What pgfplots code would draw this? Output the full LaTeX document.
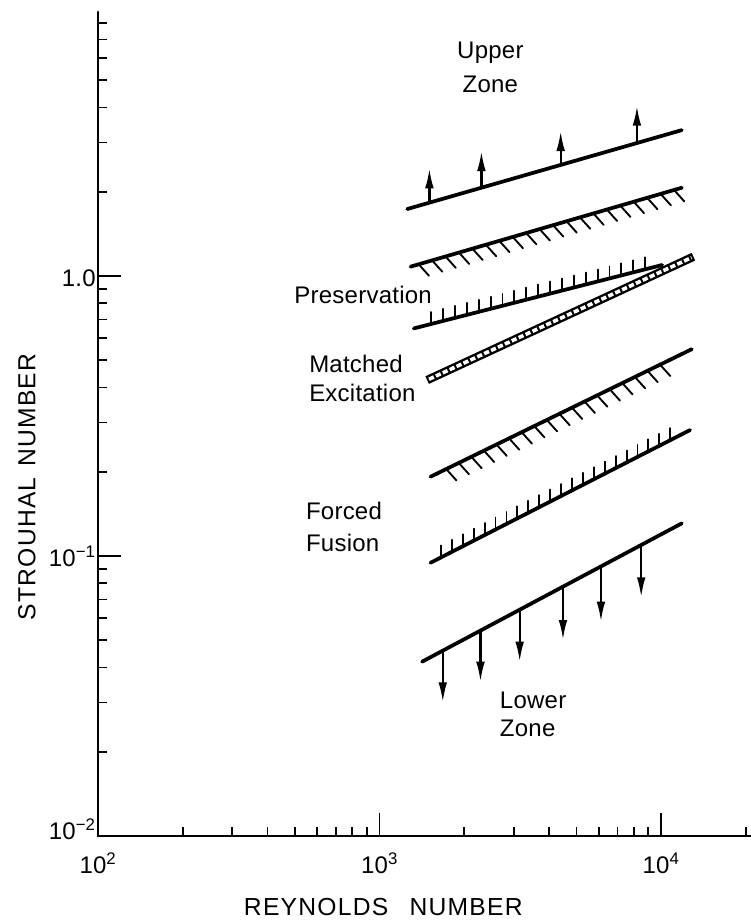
\documentclass[border=0pt]{standalone}
\usepackage{fontspec}
\setmainfont{Liberation Sans}[LetterSpace=1]
\newfontfamily\axfont{Liberation Sans}[LetterSpace=5]
\usepackage{pgfplots}
\pgfplotsset{compat=1.18}
\usetikzlibrary{decorations.markings,arrows.meta}

\tikzset{
  mainline/.style={line width=2.8pt, line cap=round, black},
  slanthatch/.style 2 args={postaction={decorate},
    decoration={markings, mark=between positions #1 and #2 step 10.5pt with
      {\pgftransformresetnontranslations\pgfsetlinewidth{1.4pt}\pgfsetroundcap
       \pgfpathmoveto{\pgfpointorigin}\pgfpathlineto{\pgfpointpolar{-48}{11.5pt}}\pgfusepath{stroke}}}},
  verthatch/.style 2 args={postaction={decorate},
    decoration={markings, mark=between positions #1 and #2 step 9.2pt with
      {\pgftransformresetnontranslations\pgfsetlinewidth{1.4pt}\pgfsetroundcap
       \pgfpathmoveto{\pgfpointorigin}\pgfpathlineto{\pgfpoint{0pt}{9pt}}\pgfusepath{stroke}}}},
  zonearrow/.style={line width=1.7pt, black, -{Latex[length=15pt,width=6.5pt]}},
  lbl/.style={font=\fontsize{18}{24}\selectfont, inner sep=0pt}
}

\begin{document}
\begin{tikzpicture}
\begin{axis}[
  scale only axis, width=489.75pt, height=618pt,
  xmode=log, ymode=log,
  xmin=100, xmax=20850, ymin=0.01, ymax=8.77,
  axis x line*=bottom, axis y line*=left,
  axis line style={line width=2.1pt, line cap=round, black},
  tick align=inside,
  major tick length=17pt, minor tick length=7pt,
  every tick/.style={black, line width=1.3pt},
  xtick={100,1000,10000},
  xticklabels={10\textsuperscript{2},10\textsuperscript{3},10\textsuperscript{4}},
  minor xtick={200,300,400,500,600,700,800,900,2000,3000,4000,5000,6000,7000,8000,9000,20000},
  ytick={0.01,0.1,1},
  yticklabels={\raisebox{5pt}{10\textsuperscript{−2}},10\textsuperscript{−1},1.0},
  minor ytick={0.02,0.03,0.04,0.05,0.06,0.07,0.08,0.09,0.2,0.3,0.4,0.5,0.6,0.7,0.8,0.9,2,3,4,5,6,7,8},
  xticklabel style={anchor=base, inner sep=0pt, yshift=-27.75pt, font=\fontsize{18}{18}\selectfont},
  yticklabel style={anchor=base east, inner sep=0pt, xshift=-1.5pt, yshift=-7.5pt, font=\fontsize{18}{18}\selectfont},
  clip=false,
]
% Upper zone boundary with arrows
\addplot[mainline] coordinates {(1254,1.735) (11840,3.32)};
\addplot[zonearrow] coordinates {(1503,1.827) (1503,2.425)};
\addplot[zonearrow] coordinates {(2300,2.067) (2300,2.795)};
\addplot[zonearrow] coordinates {(4397,2.492) (4397,3.296)};
\addplot[zonearrow] coordinates {(8204,2.985) (8204,4.058)};
% upper hatched boundary
\addplot[mainline, slanthatch={0.03}{0.99}] coordinates {(1288,1.080) (11840,2.067)};
% preservation boundary
\addplot[mainline, verthatch={0.07}{0.96}] coordinates {(1323,0.650) (10080,1.095)};
% matched excitation band
\addplot[line width=6.3pt, black, line cap=butt] coordinates {(1476,0.425) (13020,1.172)};
\addplot[line width=2.7pt, white, line cap=butt, dash pattern=on 4pt off 1.7pt, shorten <=1.5pt, shorten >=1.5pt] coordinates {(1476,0.425) (13020,1.172)};
% lower hatched boundary
\addplot[mainline, slanthatch={0.06}{0.92}] coordinates {(1517,0.192) (12850,0.548)};
% forced fusion boundary
\addplot[mainline, verthatch={0.04}{0.95}] coordinates {(1517,0.0946) (12670,0.2818)};
% lower zone boundary with arrows
\addplot[mainline] coordinates {(1416,0.04194) (11840,0.1308)};
\addplot[zonearrow] coordinates {(1677,0.04591) (1677,0.03003)};
\addplot[zonearrow] coordinates {(2282,0.05416) (2282,0.03557)};
\addplot[zonearrow] coordinates {(3145,0.06431) (3145,0.04194)};
\addplot[zonearrow] coordinates {(4481,0.07775) (4481,0.05012)};
\addplot[zonearrow] coordinates {(6113,0.09184) (6113,0.05826)};
\addplot[zonearrow] coordinates {(8495,0.1095) (8495,0.0712)};

\node[lbl, align=center, font=\fontsize{18}{26}\selectfont] at (axis cs:2475,5.555) {Upper\\Zone};
\node[lbl] at (axis cs:874,0.853) {Preservation};
\node[lbl, align=left, anchor=west, font=\fontsize{18}{21.75}\selectfont] at (axis cs:561.5,0.4297) {Matched\\Excitation};
\node[lbl, align=left, anchor=west, font=\fontsize{18}{23.8}\selectfont] at (axis cs:547,0.1272) {Forced\\Fusion};
\node[lbl, align=left, anchor=west, font=\fontsize{18}{21.3}\selectfont] at (axis cs:2671,0.02723) {Lower\\Zone};

\node[inner sep=0pt, yshift=-53.6pt, font=\axfont\fontsize{18.5}{20}\selectfont] at (rel axis cs:0.437,0) {REYNOLDS\hspace{16pt}NUMBER};
\node[inner sep=0pt, xshift=-53.25pt, rotate=90, font=\axfont\fontsize{18.5}{20}\selectfont] at (rel axis cs:0,0.4235) {STROUHAL\hspace{8pt}NUMBER};
\end{axis}
\pgfresetboundingbox
\path ([xshift=-73.5pt,yshift=-66pt]current axis.south west) rectangle ([yshift=9pt]current axis.north east);
\end{tikzpicture}
\end{document}
